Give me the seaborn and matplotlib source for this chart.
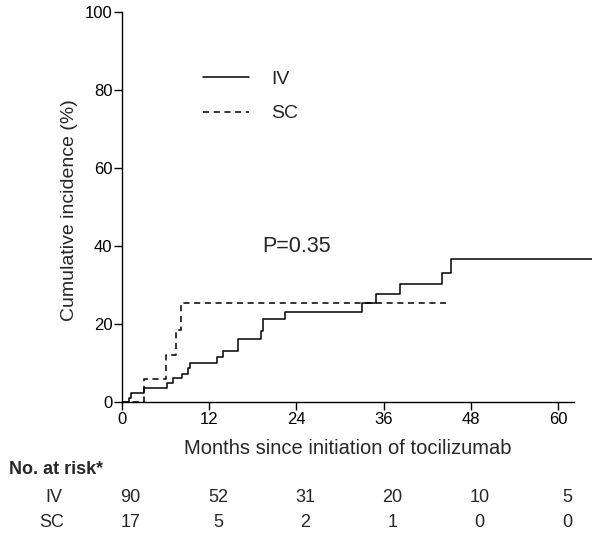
import numpy as np
import pandas as pd
import matplotlib
matplotlib.use("Agg")
import matplotlib.pyplot as plt
import seaborn as sns

# ---- data ----
iv_months = [0, 1.0, 1.3, 3.0, 6.2, 7.0, 8.3, 9.1, 9.4, 13.0, 13.9, 16.0, 19.1, 19.4,
             22.4, 33.0, 34.9, 38.3, 44.0, 45.2, 64.7]
iv_incidence = [0, 1.1, 2.3, 3.5, 4.8, 6.1, 7.3, 8.7, 10.1, 11.5, 13.2, 16.2, 18.3, 21.3,
                23.1, 25.4, 27.7, 30.2, 33.2, 36.6, 36.6]
sc_months = [0, 3.0, 6.0, 7.4, 8.1, 44.5]
sc_incidence = [0, 5.9, 12.0, 18.5, 25.5, 25.5]

groups = ["IV", "SC"]
risk_times = [0, 12, 24, 36, 48, 60]
risk_iv = [90, 52, 31, 20, 10, 5]
risk_sc = [17, 5, 2, 1, 0, 0]
p_text = "P=0.35"

df = pd.DataFrame({
    "month": iv_months + sc_months,
    "ci": iv_incidence + sc_incidence,
    "group": ["IV"] * len(iv_months) + ["SC"] * len(sc_months),
})

sns.set_style("ticks")
plt.rcParams["font.family"] = ["Liberation Sans", "DejaVu Sans"]

W, H = 600, 536
fig = plt.figure(figsize=(W / 100, H / 100), dpi=100)
x0, x1 = 122, 122 + 64.7 * 7.27
y0, y1 = 402, 12
ax = fig.add_axes([x0 / W, 1 - y0 / H, (x1 - x0) / W, (y0 - y1) / H])

sns.lineplot(data=df, x="month", y="ci", style="group", style_order=groups,
             dashes={"IV": "", "SC": (4, 3)}, color="black", linewidth=1.1,
             drawstyle="steps-post", estimator=None, ax=ax, legend=True)

ax.set_xlim(0, 64.7)
ax.set_ylim(0, 100)
ax.set_xticks(risk_times)
ax.set_yticks([0, 20, 40, 60, 80, 100])
ax.spines["top"].set_visible(False)
ax.spines["right"].set_visible(False)
ax.spines["bottom"].set_bounds(0, 62.2)
ax.spines["left"].set_bounds(0, 100)
for s in ["left", "bottom"]:
    ax.spines[s].set_linewidth(1.0)
    ax.spines[s].set_color("black")
ax.tick_params(axis="both", direction="out", length=5.5, width=1.0, labelsize=12,
               colors="black", pad=1.5)
ax.set_xlabel("Months since initiation of tocilizumab", fontsize=14.5, va="center")
ax.set_ylabel("Cumulative incidence (%)", fontsize=14, va="center")
ax.xaxis.set_label_coords(348 / W, 1 - 448 / H, transform=fig.transFigure)
ax.yaxis.set_label_coords(70 / W, 1 - 210 / H, transform=fig.transFigure)

leg = ax.legend(loc="upper left", bbox_to_anchor=(185 / W, 1 - 53 / H),
                bbox_transform=fig.transFigure, frameon=False, fontsize=14,
                handlelength=2.37, handletextpad=1.18, labelspacing=0.86)
for line in leg.get_lines():
    line.set_linewidth(1.1)

ax.text(24.0, 39.8, p_text, fontsize=15.5, ha="center", va="center")

# risk table
fig.text(9 / W, 1 - 470 / H, "No. at risk*", fontsize=13, fontweight="bold",
         ha="left", va="center")
rows = [("IV", risk_iv, 498, 54), ("SC", risk_sc, 522.5, 52)]
for name, vals, ypix, xlab in rows:
    fig.text(xlab / W, 1 - ypix / H, name, fontsize=13, ha="center", va="center")
    for t, v in zip(risk_times, vals):
        xp = 122 + (t + 1.2) * 7.27
        fig.text(xp / W, 1 - ypix / H, str(v), fontsize=13, ha="center", va="center")

fig.savefig("out.png", dpi=100)
